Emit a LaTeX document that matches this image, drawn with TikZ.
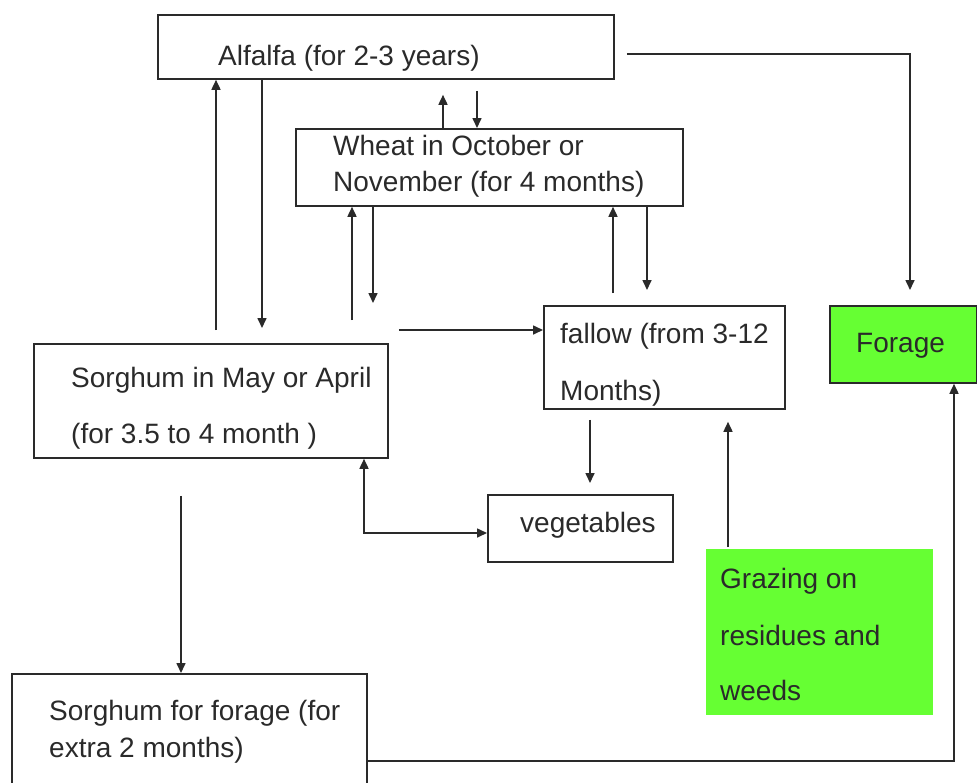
\documentclass[tikz,border=0pt]{standalone}
\usepackage{fontspec}
\setmainfont{Liberation Sans}
\usetikzlibrary{arrows.meta,calc}
\definecolor{lime}{HTML}{66FF33}
\definecolor{ink}{HTML}{2A2A2A}
\begin{document}
\begin{tikzpicture}[x=1pt,y=-1pt,
  box/.style={draw=ink, line width=1.8pt, inner sep=0pt, anchor=north west},
  gbox/.style={box, fill=lime},
  gfill/.style={fill=lime, inner sep=0pt, anchor=north west},
  txt/.style={anchor=base west, inner sep=0pt, text=ink, font=\fontsize{28}{28}\selectfont},
  arr/.style={draw=ink, line width=1.6pt, -{Triangle[length=10pt,width=9pt]}},
  darr/.style={draw=ink, line width=1.6pt, {Triangle[length=10pt,width=9pt]}-{Triangle[length=10pt,width=9pt]}}]
\useasboundingbox (0,0) rectangle (977,782);
\clip (0,0) rectangle (977,782);
\fill[white] (0,0) rectangle (977,782);

% boxes
\node[box, minimum width=456pt, minimum height=64pt] (alf) at (157,14) {};
\node[box, minimum width=387pt, minimum height=77pt] (wht) at (295,128) {};
\node[box, minimum width=354pt, minimum height=114pt] (sor) at (33,343) {};
\node[box, minimum width=241pt, minimum height=103pt] (fal) at (543,305) {};
\node[gbox, minimum width=147pt, minimum height=77pt] (forage) at (829,305) {};
\node[box, minimum width=185pt, minimum height=67pt] (veg) at (487,494) {};
\node[gfill, minimum width=227pt, minimum height=166pt] (graz) at (706,549) {};
\node[box, minimum width=355pt, minimum height=140pt] (sf) at (11,673) {};

% texts
\node[txt] (alf-t) at (218,65) {Alfalfa (for 2-3 years)};
\node[txt] (wht-t1) at (333,155) {Wheat in October or};
\node[txt] (wht-t2) at (333,191) {November (for 4 months)};
\node[txt] (sor-t1) at (71,387) {Sorghum in May or April};
\node[txt] (sor-t2) at (71,443) {(for 3.5 to 4 month )};
\node[txt] (fal-t1) at (560,343) {fallow (from 3-12};
\node[txt] (fal-t2) at (560,400) {Months)};
\node[txt] (forage-t) at (856,352) {Forage};
\node[txt] (veg-t) at (520,532) {vegetables};
\node[txt] (graz-t1) at (720,588) {Grazing on};
\node[txt] (graz-t2) at (720,645) {residues and};
\node[txt] (graz-t3) at (720,700) {weeds};
\node[txt] (sf-t1) at (49,720) {Sorghum for forage (for};
\node[txt] (sf-t2) at (49,757) {extra 2 months)};

% connectors
\draw[arr] ($(alf.east)+(12,7)$) -| ($(forage.north west)+(81,-15)$);
\draw[arr] ($(sor.north west)+(183,-13)$) -- ($(alf.south west)+(59,0)$);
\draw[arr] ($(alf.south west)+(105,0)$) -- ($(sor.north west)+(229,-15)$);
\draw[arr] ($(wht.north west)+(148,0)$) -- ($(alf.south west)+(286,15)$);
\draw[arr] ($(alf.south west)+(320,11)$) -- ($(wht.north west)+(182,0)$);
\draw[arr] ($(sor.north west)+(319,-23)$) -- ($(wht.south west)+(57,0)$);
\draw[arr] ($(wht.south west)+(78,0)$) -- ($(sor.north west)+(340,-40)$);
\draw[arr] ($(sor.north east)+(10,-13)$) -- ($(fal.north west)+(0,25)$);
\draw[arr] ($(fal.north west)+(70,-12)$) -- ($(wht.south west)+(318,0)$);
\draw[arr] ($(wht.south west)+(352,0)$) -- ($(fal.north west)+(104,-15)$);
\draw[arr] ($(fal.south west)+(47,10)$) -- ($(veg.north west)+(103,-11)$);
\draw[arr] ($(graz.north west)+(22,-2)$) -- ($(fal.south west)+(185,12)$);
\draw[darr] ($(sor.south west)+(331,0)$) |- ($(veg.north west)+(0,39)$);
\draw[arr] ($(sor.south west)+(148,37)$) -- ($(sf.north west)+(170,0)$);
\draw[arr] ($(sf.north east)+(0,88)$) -| ($(forage.south west)+(125,0)$);
\end{tikzpicture}
\end{document}
